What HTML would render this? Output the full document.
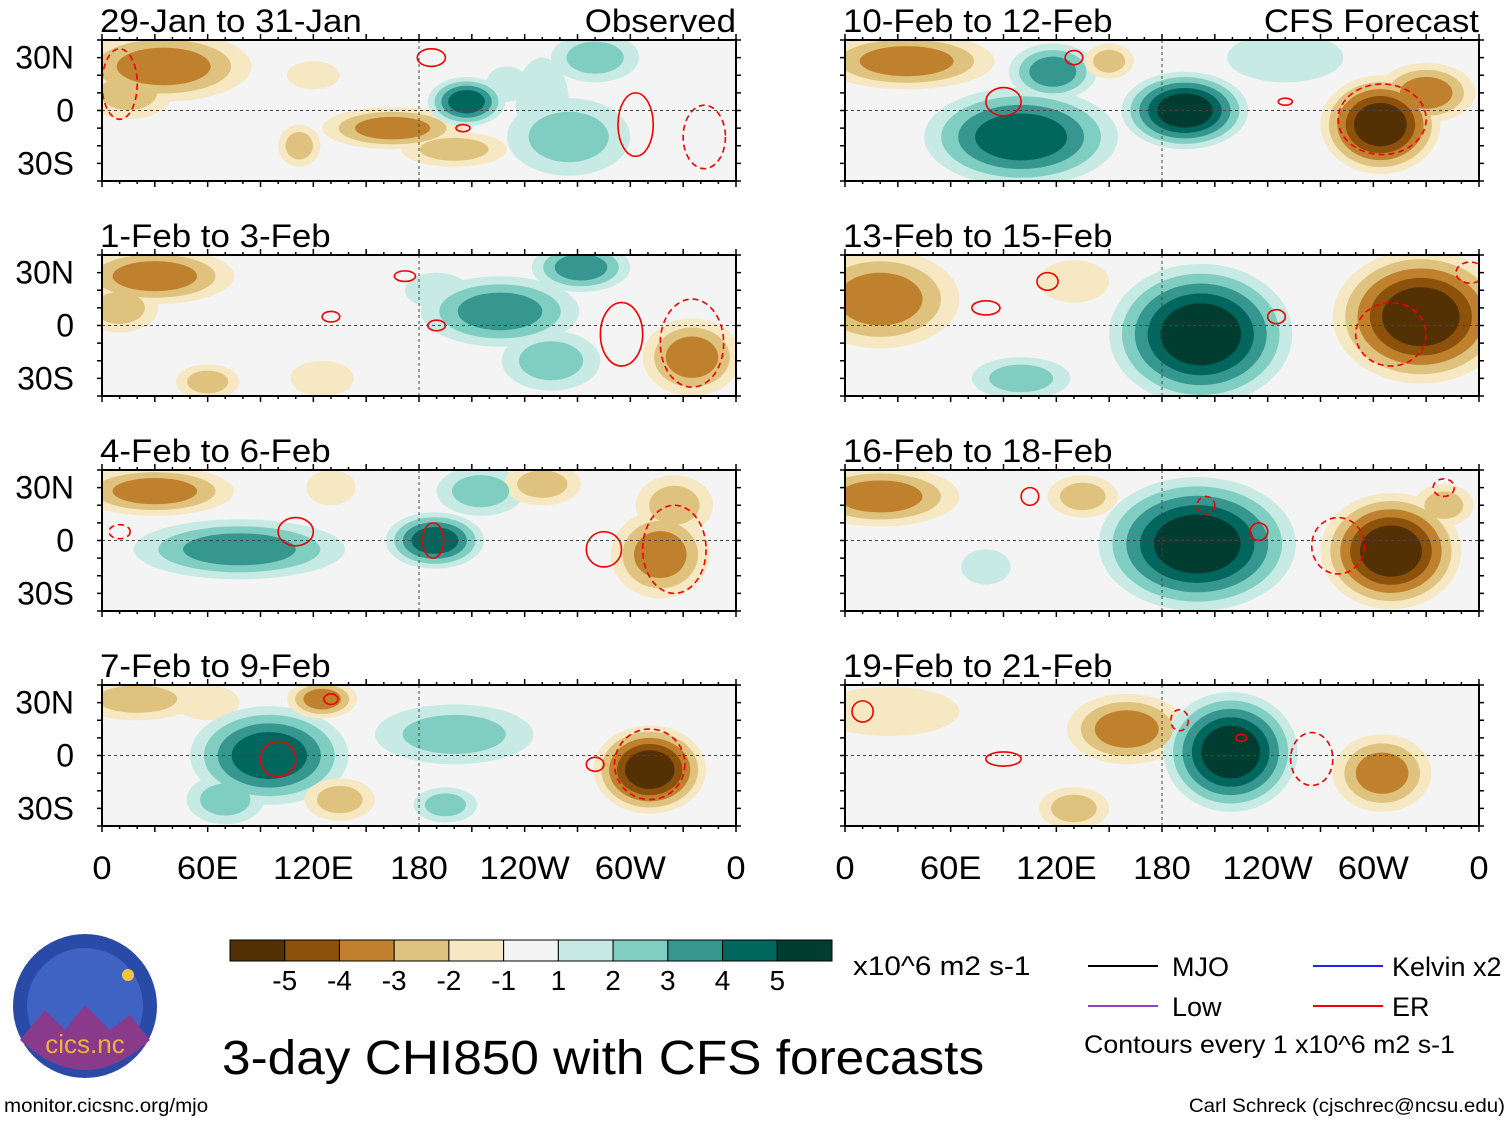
<!DOCTYPE html>
<html><head><meta charset="utf-8"><style>
body{margin:0;background:#fff;width:1510px;height:1121px;overflow:hidden;font-family:"Liberation Sans",sans-serif}
svg text{font-family:"Liberation Sans",sans-serif;fill:#000}
</style></head><body>
<svg id="chart" width="1510" height="1121" xmlns="http://www.w3.org/2000/svg"></svg>
<script>
const levelColors={"-5":"#543005","-4":"#8c510a","-3":"#bf812d","-2":"#dfc27d","-1":"#f6e8c3","1":"#c7eae5","2":"#80cdc1","3":"#35978f","4":"#01665e","5":"#003c30"};
const panelTitles=["29-Jan to 31-Jan","1-Feb to 3-Feb","4-Feb to 6-Feb","7-Feb to 9-Feb","10-Feb to 12-Feb","13-Feb to 15-Feb","16-Feb to 18-Feb","19-Feb to 21-Feb"];
const latTicks=["30N","0","30S"];
const latVals=[30,0,-30];
const lonTicks=["0","60E","120E","180","120W","60W","0"];
const lonVals=[0,60,120,180,240,300,360];
const cbarLabels=["-5","-4","-3","-2","-1","1","2","3","4","5"];
// blobs per panel: [lon, lat, rlon, rlat, peak]
const blobs0=[[35,25,50,20,-3],[15,10,25,15,-2],[165,-10,40,12,-3],[200,-22,30,10,-2],[207,5,22,14,4],[265,-15,35,22,2],[280,30,25,14,2],[112,-20,12,12,-2],[230,15,12,10,1],[120,20,15,8,-1],[250,5,15,25,1]];
const blobs1=[[30,28,45,16,-3],[10,10,22,14,-2],[226,8,45,20,3],[272,33,28,14,3],[255,-20,28,17,2],[335,-18,28,22,-3],[60,-32,18,10,-2],[125,-30,18,10,-1],[190,20,18,10,1]];
const blobs2=[[30,28,45,14,-3],[78,-5,60,17,3],[189,0,28,16,4],[215,28,25,14,2],[317,-8,28,25,-3],[325,20,22,17,-2],[250,32,22,12,-2],[130,30,14,10,-1]];
const blobs3=[[20,32,35,12,-2],[60,30,18,10,-1],[95,0,45,28,4],[200,12,45,17,2],[311,-8,32,25,-5],[125,32,20,11,-3],[135,-25,20,12,-2],[195,-28,18,10,2],[70,-25,22,14,2]];
const blobs4=[[35,28,50,16,-3],[193,0,36,22,5],[100,-15,55,28,4],[118,22,25,16,3],[250,30,33,14,1],[304,-8,34,28,-5],[330,10,28,17,-3],[150,28,14,10,-2]];
const blobs5=[[20,15,45,28,-3],[202,-5,52,40,5],[327,5,50,38,-5],[100,-30,28,12,2],[130,25,20,12,-1]];
const blobs6=[[20,25,45,17,-3],[200,-2,56,38,5],[310,-6,40,33,-5],[135,25,20,12,-2],[340,20,17,12,-2],[80,-15,14,10,1]];
const blobs7=[[25,25,40,14,-1],[160,15,34,20,-3],[219,2,38,34,5],[305,-10,28,22,-3],[130,-30,20,12,-2]];
const allBlobs=[blobs0,blobs1,blobs2,blobs3,blobs4,blobs5,blobs6,blobs7];
// red contours: [lon, lat, rlon, rlat, dashed]
const red0=[[187,30,8,5,0],[205,-10,4,2,0],[303,-8,10,18,0],[342,-15,12,18,1],[10,15,10,20,1]];
const red1=[[172,28,6,3,0],[190,0,5,3,0],[295,-5,12,18,0],[335,-10,18,25,1],[130,5,5,3,0]];
const red2=[[110,5,10,8,0],[188,0,6,10,0],[285,-5,10,10,0],[325,-5,18,25,1],[10,5,6,4,1]];
const red3=[[100,-2,10,10,0],[311,-5,20,20,1],[130,32,4,3,0],[280,-5,5,4,0]];
const red4=[[90,5,10,8,0],[305,-5,25,20,1],[130,30,5,4,0],[250,5,4,2,0]];
const red5=[[80,10,8,4,0],[115,25,6,5,0],[245,5,5,4,0],[310,-5,20,18,1],[355,30,8,6,1]];
const red6=[[105,25,5,5,0],[205,20,5,5,1],[235,5,5,5,0],[280,-3,15,16,1],[340,30,6,5,1]];
const red7=[[10,25,6,6,0],[90,-2,10,4,0],[190,20,5,6,1],[225,10,3,2,0],[265,-2,12,15,1]];
const allRed=[red0,red1,red2,red3,red4,red5,red6,red7];

const NS="http://www.w3.org/2000/svg";
const svg=document.getElementById('chart');
function mk(tag,attrs,parent){const e=document.createElementNS(NS,tag);for(const k in attrs)e.setAttribute(k,attrs[k]);(parent||svg).appendChild(e);return e;}
function widen(t,f){try{const w=t.getComputedTextLength();if(w>0){t.setAttribute('textLength',w*f);t.setAttribute('lengthAdjust','spacingAndGlyphs');}}catch(e){}}
const colX=[102,845],rowY=[40,255,470,685],PW=634,PH=141;
const defs=mk('defs',{});
for(let p=0;p<8;p++){
  const x0=colX[p<4?0:1],y0=rowY[p%4];
  const xs=lon=>x0+lon*PW/360, ys=lat=>y0+(40-lat)*PH/80;
  const cp=mk('clipPath',{id:'cp'+p},defs);mk('rect',{x:x0,y:y0,width:PW,height:PH},cp);
  const g=mk('g',{'clip-path':'url(#cp'+p+')'});
  
  
  mk('rect',{x:x0,y:y0,width:PW,height:PH,fill:'#f4f4f4'},g);
  for(let k=1;k<=5;k++){
    allBlobs[p].forEach(b=>{
      const n=Math.abs(b[4]),s=Math.sign(b[4]);
      if(k>n)return;
      const f=1-(k-1)/n*0.7;
      const e=mk('ellipse',{cx:xs(b[0]),cy:ys(b[1]),rx:b[2]*f*PW/360,ry:b[3]*f*PH/80,fill:levelColors[String(s*k)]},g);
      
      
    });
  }
  allRed[p].forEach(r=>{
    const e=mk('ellipse',{cx:xs(r[0]),cy:ys(r[1]),rx:r[2]*PW/360,ry:r[3]*PH/80,fill:'none',stroke:'#e00','stroke-width':1.6,'stroke-dasharray':r[4]?'6,4':'none'},g);
    
    
  });
  mk('line',{x1:x0,x2:x0+PW,y1:ys(0),y2:ys(0),stroke:'#444','stroke-dasharray':'3,3','stroke-width':1},g);
  mk('line',{x1:xs(180),x2:xs(180),y1:y0,y2:y0+PH,stroke:'#444','stroke-dasharray':'3,3','stroke-width':1},g);
  const fr=mk('rect',{x:x0,y:y0,width:PW,height:PH,fill:'none',stroke:'#000','stroke-width':2});
  
  
  for(let l=0;l<=360;l+=10){const len=l%30===0?6:3;
    mk('line',{x1:xs(l),x2:xs(l),y1:y0,y2:y0-len,stroke:'#000','stroke-width':1.5});
    mk('line',{x1:xs(l),x2:xs(l),y1:y0+PH,y2:y0+PH+len,stroke:'#000','stroke-width':1.5});}
  for(let la=-40;la<=40;la+=10){mk('line',{x1:x0,x2:x0-5,y1:ys(la),y2:ys(la),stroke:'#000','stroke-width':1.5});mk('line',{x1:x0+PW,x2:x0+PW+5,y1:ys(la),y2:ys(la),stroke:'#000','stroke-width':1.5});}
  const t=mk('text',{x:x0-2,y:y0-8,'font-size':32});t.textContent=panelTitles[p];
  
  
  widen(t,1.09);
  if(p===0||p===4){const t2=mk('text',{x:x0+PW,y:y0-8,'font-size':32,'text-anchor':'end'});t2.textContent=p===0?'Observed':'CFS Forecast';
    
    
    widen(t2,1.09);}
  if(p<4){latVals.forEach((v,i)=>{const tl=mk('text',{x:74,y:ys(v)+11,'font-size':32,'text-anchor':'end'});tl.textContent=latTicks[i];
    
    });}
  if(p%4===3){lonVals.forEach((v,i)=>{const tl=mk('text',{x:xs(v),y:879,'font-size':32,'text-anchor':'middle'});tl.textContent=lonTicks[i];
    
    
    widen(tl,1.08);});}
}
// colorbar
const cbKeys=["-5","-4","-3","-2","-1","0","1","2","3","4","5"];
const cbX=230,cbW=602/11;
cbKeys.forEach((k,i)=>{const r=mk('rect',{x:cbX+i*cbW,y:940,width:cbW,height:21,fill:k==="0"?"#f4f4f4":levelColors[k],stroke:'#000','stroke-width':1});
  
  });
cbarLabels.forEach((l,i)=>{const t=mk('text',{x:cbX+(i+1)*cbW,y:990,'font-size':28,'text-anchor':'middle'});t.textContent=l;
  
  });
function txt(x,y,s,str,name,anchor,f){const t=mk('text',{x:x,y:y,'font-size':s,'text-anchor':anchor||'start'});t.textContent=str;if(f)widen(t,f);return t;}
txt(853,975,27,'x10^6 m2 s-1','colorbar-units','start',1.1);
txt(222,1074,48,'3-day CHI850 with CFS forecasts','chart-title','start',1.07);
const leg=[[1088,966,'#000','MJO',1172],[1088,1006,'#8844cc','Low',1172],[1313,966,'#2222ee','Kelvin x2',1392],[1313,1006,'#e00','ER',1392]];
leg.forEach(l=>{const ln=mk('line',{x1:l[0],x2:l[0]+70,y1:l[1],y2:l[1],stroke:l[2],'stroke-width':2});
  txt(l[4],l[1]+10,27,l[3],'legend-label');});
txt(1084,1053,25,'Contours every 1 x10^6 m2 s-1','contour-note','start',1.07);
txt(4,1112,19,'monitor.cicsnc.org/mjo','source-url','start',1.08);
const cr=txt(1505,1112,19,'Carl Schreck (cjschrec@ncsu.edu)','author-credit','end');
widen(cr,1.08);
// logo
const lg=mk('g',{});
mk('circle',{cx:85,cy:1006,r:72,fill:'#2a4aa8'},lg);
mk('circle',{cx:85,cy:1006,r:58,fill:'#3f63c2'},lg);
mk('path',{d:'M20,1040 L45,1010 L65,1030 L85,1005 L110,1030 L130,1015 L150,1040 Q85,1100 20,1040Z',fill:'#8a3a8a'},lg);
mk('circle',{cx:128,cy:975,r:6,fill:'#f5c542'},lg);
const lt=mk('text',{x:85,y:1053,'font-size':26,'text-anchor':'middle',fill:'#f0b040'},lg);lt.textContent='cics.nc';lt.style.fill='#f0b040';
</script>
</body></html>
